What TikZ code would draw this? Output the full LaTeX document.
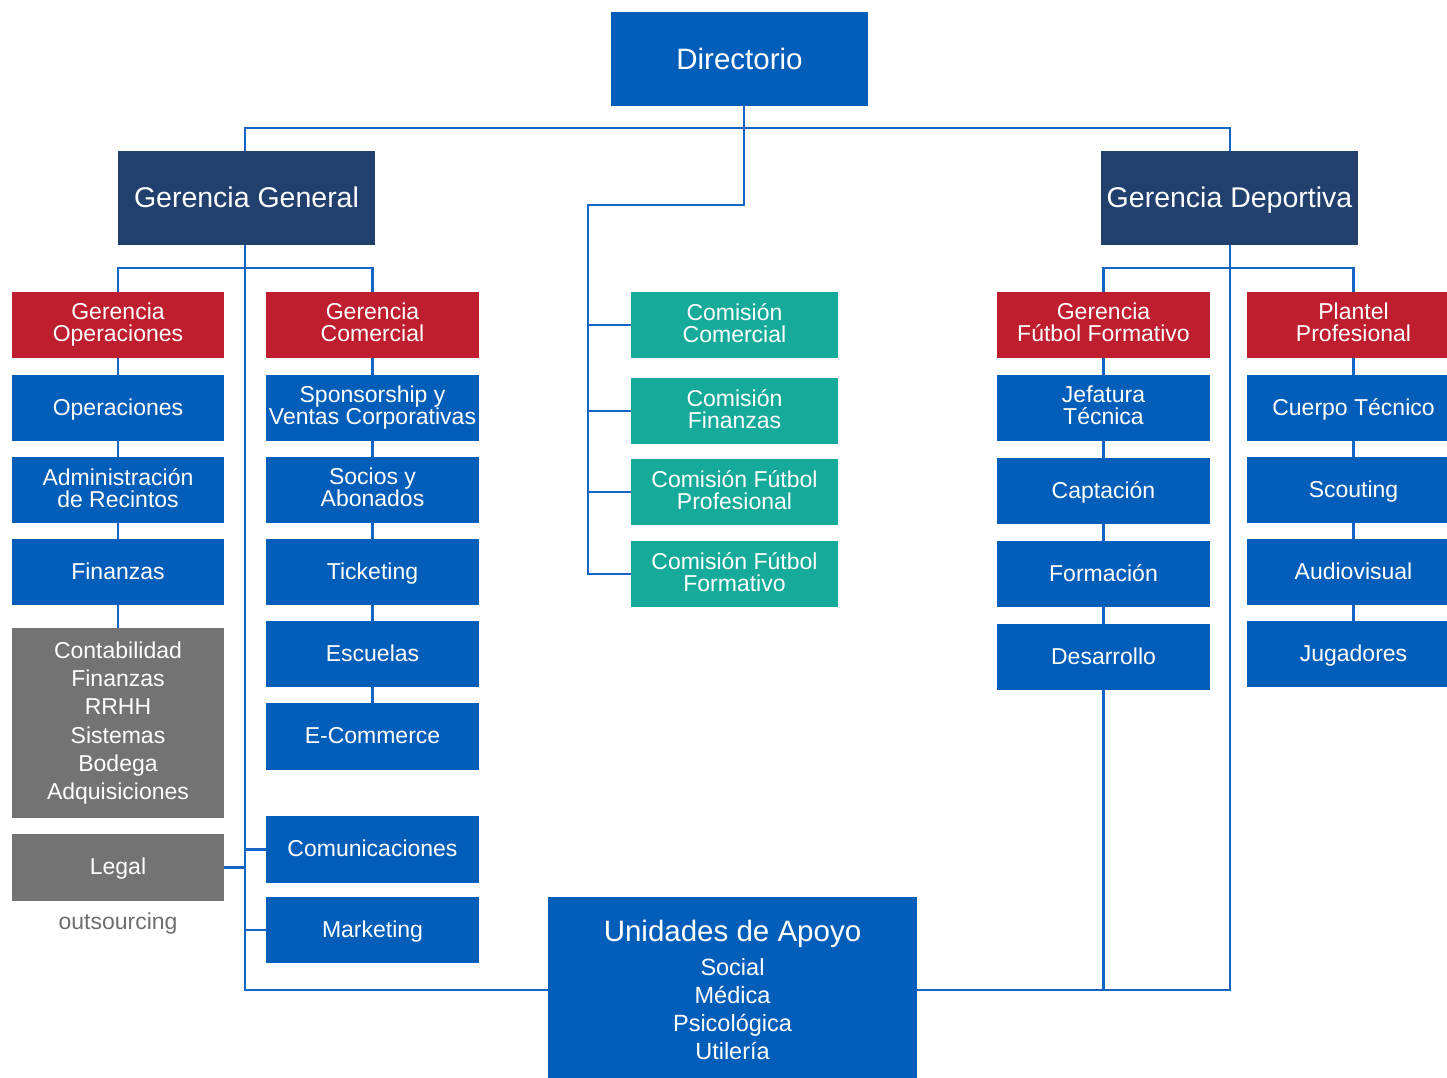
\documentclass[tikz,border=0pt]{standalone}
\usepackage{fontspec}
\setmainfont{Liberation Sans}
\definecolor{cblue}{RGB}{2,94,185}
\definecolor{cnavy}{RGB}{33,64,110}
\definecolor{cred}{RGB}{190,30,45}
\definecolor{cteal}{RGB}{22,170,155}
\definecolor{cgray}{RGB}{115,115,115}
\definecolor{cline}{RGB}{22,100,195}
\definecolor{ctxtgray}{RGB}{110,110,110}
\tikzset{
  box0/.style={rectangle, inner sep=0pt, text=white, align=center, font=\fontsize{23}{22}\selectfont},
  box/.style={box0, text height=14.5pt, text depth=0pt},
  multi/.style={box0, execute at begin node={\rule{0pt}{20.5pt}}, execute at end node={\vphantom{g}}},
  bluebox/.style={box, fill=cblue, minimum width=213pt, minimum height=66pt},
  bluetwo/.style={multi, fill=cblue, minimum width=213pt, minimum height=66pt},
  redbox/.style={multi, fill=cred, minimum width=213pt, minimum height=66pt},
  tealbox/.style={multi, fill=cteal, minimum width=207pt, minimum height=66pt},
  navybox/.style={box, fill=cnavy, minimum width=257pt, minimum height=94pt, font=\fontsize{28.5}{30}\selectfont, text height=19.5pt},
  conn/.style={draw=cline, line width=2.8pt},
}
\begin{document}
\begin{tikzpicture}[x=1pt,y=-1pt]
\useasboundingbox[fill=white] (0,0) rectangle (1447,1077);
% top
\node[box, fill=cblue, minimum width=257pt, minimum height=94pt, font=\fontsize{29.5}{30}\selectfont, text height=21.2pt] (dir) at (739.5,59) {Directorio};
\node[navybox] (gg) at (246.5,198) {Gerencia General};
\node[navybox] (gd) at (1229.5,198) {Gerencia Deportiva};
% column 1
\node[redbox, minimum width=212pt] (gop) at (118,325) {Gerencia\\Operaciones};
\node[bluebox, minimum width=212pt] (op) at (118,408) {Operaciones};
\node[bluetwo, minimum width=212pt] (adm) at (118,490) {Administración\\de Recintos};
\node[bluebox, minimum width=212pt] (fin) at (118,572) {Finanzas};
\node[multi, fill=cgray, minimum width=212pt, minimum height=190pt, font=\fontsize{23}{28.2}\selectfont] (cont) at (118,723) {Contabilidad\\Finanzas\\RRHH\\Sistemas\\Bodega\\Adquisiciones};
\node[box, fill=cgray, minimum width=212pt, minimum height=67pt] (legal) at (118,867.5) {Legal};
\node[text=ctxtgray, font=\fontsize{23}{24}\selectfont, inner sep=0pt] (outs) at (118,924) {outsourcing};
% column 2
\node[redbox] (gcom) at (372.5,325) {Gerencia\\Comercial};
\node[bluetwo] (spon) at (372.5,408) {Sponsorship y\\Ventas Corporativas};
\node[bluetwo] (soc) at (372.5,490) {Socios y\\Abonados};
\node[bluebox] (tick) at (372.5,572) {Ticketing};
\node[bluebox] (esc) at (372.5,654) {Escuelas};
\node[bluebox, minimum height=67pt] (ecom) at (372.5,736.5) {E-Commerce};
\node[bluebox, minimum height=67pt] (comu) at (372.5,849.5) {Comunicaciones};
\node[bluebox] (mkt) at (372.5,930) {Marketing};
% commissions
\node[tealbox] (c1) at (734.5,325) {Comisión\\Comercial};
\node[tealbox] (c2) at (734.5,411) {Comisión\\Finanzas};
\node[tealbox] (c3) at (734.5,492) {Comisión Fútbol\\Profesional};
\node[tealbox] (c4) at (734.5,574) {Comisión Fútbol\\Formativo};
% column 3
\node[redbox] (gff) at (1103.5,325) {Gerencia\\Fútbol Formativo};
\node[bluetwo] (jef) at (1103.5,408) {Jefatura\\Técnica};
\node[bluebox] (cap) at (1103.5,491) {Captación};
\node[bluebox] (form) at (1103.5,574) {Formación};
\node[bluebox] (des) at (1103.5,657) {Desarrollo};
% column 4
\node[redbox] (pp) at (1353.5,325) {Plantel\\Profesional};
\node[bluebox] (ct) at (1353.5,408) {Cuerpo Técnico};
\node[bluebox] (sco) at (1353.5,490) {Scouting};
\node[bluebox] (aud) at (1353.5,572) {Audiovisual};
\node[bluebox] (jug) at (1353.5,654) {Jugadores};
% support units
\node[box0, fill=cblue, minimum width=369pt, minimum height=186pt, font=\fontsize{23.5}{28}\selectfont] (ua) at (732.5,990)
  {{\fontsize{29.5}{30}\selectfont Unidades de Apoyo}\\[6pt]Social\\Médica\\Psicológica\\Utilería};
% coordinates
\coordinate (top) at (744,128);
\coordinate (spine) at (588,205);
\coordinate (bl) at (245,990);
\coordinate (br) at (1230,990);
% connectors top
\draw[conn] ([xshift=-1.5pt]gg.north) |- (top) -| ([xshift=0.5pt]gd.north);
\draw[conn] ([xshift=4.5pt]dir.south) -- (top);
\draw[conn] (top) -- (top |- spine) -- (spine) |- (c4.west);
\draw[conn] (c1.west) -- (c1.west -| spine);
\draw[conn] (c2.west) -- (c2.west -| spine);
\draw[conn] (c3.west) -- (c3.west -| spine);
% left branch
\draw[conn] ([xshift=-1.5pt]gg.south) -- (bl) -- (bl -| ua.west);
\draw[conn] (gop.north) |- (bl |- 0,268) -| (gcom.north);
\draw[conn] (gop.south) -- (op.north);
\draw[conn] (op.south) -- (adm.north);
\draw[conn] (adm.south) -- (fin.north);
\draw[conn] (fin.south) -- (cont.north);
\draw[conn] (gcom.south) -- (spon.north);
\draw[conn] (spon.south) -- (soc.north);
\draw[conn] (soc.south) -- (tick.north);
\draw[conn] (tick.south) -- (esc.north);
\draw[conn] (esc.south) -- (ecom.north);
\draw[conn] (legal.east) -- (legal.east -| bl);
\draw[conn] (comu.west) -- (comu.west -| bl);
\draw[conn] (mkt.west) -- (mkt.west -| bl);
% right branch
\draw[conn] ([xshift=0.5pt]gd.south) -- (br) -- (br -| ua.east);
\draw[conn] (gff.north) |- (br |- 0,268) -| (pp.north);
\draw[conn] (gff.south) -- (jef.north);
\draw[conn] (jef.south) -- (cap.north);
\draw[conn] (cap.south) -- (form.north);
\draw[conn] (form.south) -- (des.north);
\draw[conn] (des.south) -- (des.south |- br);
\draw[conn] (pp.south) -- (ct.north);
\draw[conn] (ct.south) -- (sco.north);
\draw[conn] (sco.south) -- (aud.north);
\draw[conn] (aud.south) -- (jug.north);
\end{tikzpicture}
\end{document}
